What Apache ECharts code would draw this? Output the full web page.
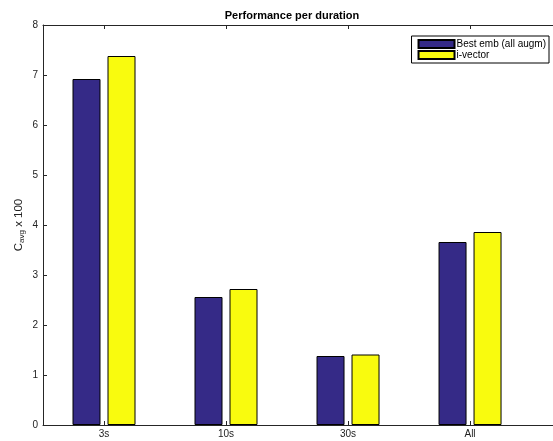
<!DOCTYPE html>
<html>
<head>
<meta charset="utf-8">
<script src="https://cdn.jsdelivr.net/npm/echarts@6/dist/echarts.min.js"></script>
<style>
  html, body { margin: 0; padding: 0; background: #fff; }
  #chart { width: 553px; height: 441px; }
</style>
</head>
<body>
<div id="chart"></div>
<script>
var categories = ["3s", "10s", "30s", "All"];
var bestEmb = [6.92, 2.56, 1.38, 3.66];
var iVector = [7.38, 2.72, 1.41, 3.86];
var yTicks = [0, 1, 2, 3, 4, 5, 6, 7, 8];
var catPos = [1, 2, 3, 4];

var dom = document.getElementById("chart");
var myChart = echarts.init(dom);

function pairs(vals) {
  var out = [];
  for (let i = 0; i < vals.length; i++) {
    out.push([catPos[i], vals[i]]);
  }
  return out;
}

var axisColor = "#262626";
var font = "Liberation Sans, Arial, sans-serif";

var option = {
  animation: false,
  title: {
    text: "Performance per duration",
    left: 287,
    top: 5,
    textAlign: "center",
    textStyle: { fontSize: 11, fontWeight: "bold", color: "#000", fontFamily: font },
  },
  legend: {
    orient: "vertical",
    right: 4,
    top: 36,
    itemWidth: 36,
    itemHeight: 8,
    itemGap: 1,
    padding: [3, 3, 3, 6],
    borderColor: "#000",
    borderWidth: 1,
    borderRadius: 0,
    icon: "rect",
    textStyle: { fontSize: 10, color: "#000", fontFamily: font, padding: [0, 0, 0, -3] },
    data: ["Best emb (all augm)", "i-vector"],
  },
  grid: { left: 43, right: 0, top: 25, bottom: 16, outerBoundsMode: "none" },
  xAxis: [
    {
      type: "value",
      min: 0.5,
      max: 4.68,
      axisLine: { show: true, lineStyle: { color: axisColor } },
      splitLine: { show: false },
      axisTick: { inside: true, length: 4, customValues: catPos, lineStyle: { color: axisColor } },
      axisLabel: {
        customValues: catPos,
        formatter: function (v) { return categories[Math.round(v) - 1]; },
        fontSize: 10,
        color: "#222",
        fontFamily: font,
        margin: 4,
      },
    },
    {
      type: "value",
      position: "top",
      min: 0.5,
      max: 4.68,
      axisLine: { show: true, lineStyle: { color: axisColor } },
      splitLine: { show: false },
      axisTick: { inside: true, length: 4, customValues: catPos, lineStyle: { color: axisColor } },
      axisLabel: { show: false },
    },
  ],
  yAxis: {
    type: "value",
    min: 0,
    max: 8,
    interval: 1,
    axisLine: { show: true, lineStyle: { color: axisColor } },
    splitLine: { show: false },
    axisTick: { inside: true, length: 4, lineStyle: { color: axisColor } },
    axisLabel: { fontSize: 10, color: "#222", fontFamily: font, margin: 5 },
    name: "{c|C}{s|avg}{c| x 100}",
    nameLocation: "middle",
    nameGap: 17,
    nameMoveOverlap: false,
    nameRotate: 90,
    nameTextStyle: {
      rich: {
        c: { fontSize: 11.5, color: "#222", fontFamily: font, lineHeight: 14, verticalAlign: "middle" },
        s: { fontSize: 8, color: "#222", fontFamily: font, lineHeight: 14, verticalAlign: "bottom", padding: [5, 0, 0, 0] },
      },
    },
  },
  series: [
    {
      name: "Best emb (all augm)",
      type: "bar",
      barWidth: 28,
      barGap: "25%",
      data: pairs(bestEmb),
      itemStyle: { color: "#352a87", borderColor: "#000", borderWidth: 1 },
    },
    {
      name: "i-vector",
      type: "bar",
      barWidth: 28,
      barGap: "25%",
      data: pairs(iVector),
      itemStyle: { color: "#f9fb0e", borderColor: "#000", borderWidth: 1 },
    },
  ],
};
myChart.setOption(option);
</script>
</body>
</html>
